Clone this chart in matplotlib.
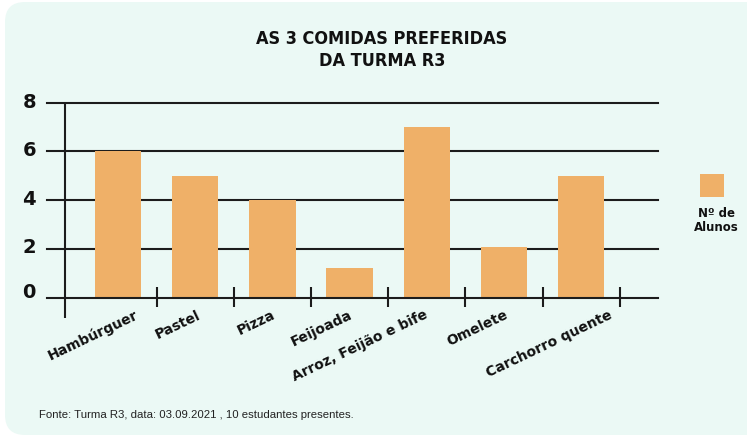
import matplotlib
matplotlib.use("Agg")
import matplotlib.pyplot as plt
import matplotlib.transforms as mtransforms
from matplotlib.patches import FancyBboxPatch, Rectangle

# Data
categorias = ["Hambúrguer", "Pastel", "Pizza", "Feijoada",
              "Arroz, Feijão e bife", "Omelete", "Carchorro quente"]
n_alunos = [6, 5, 4, 1.2, 7, 2.1, 5]
y_ticks = [0, 2, 4, 6, 8]
y_tick_labels = ["0", "2", "4", "6", "8"]
titulo = "AS 3 COMIDAS PREFERIDAS\nDA TURMA R3"
legenda = "Nº de\nAlunos"
fonte = "Fonte: Turma R3, data: 03.09.2021 , 10 estudantes presentes."

# Style
BAR = "#efb068"
BG = "#ebf9f5"
INK = "#1c1c1c"
LABEL_FONT = "DejaVu Sans"

W, H, DPI = 7.47, 4.37, 100
fig = plt.figure(figsize=(W, H), dpi=DPI, facecolor="white")

# rounded mint panel behind everything
panel = FancyBboxPatch((0.05, 0.02), 7.9, 4.33,
                       boxstyle="round,pad=0,rounding_size=0.2",
                       transform=fig.dpi_scale_trans, facecolor=BG,
                       edgecolor="none", zorder=-5)
fig.patches.append(panel)

# axes placed in pixel terms
left_px, right_px, top_px, bottom_px = 47, 657.7, 102.7, 317.7
ax = fig.add_axes([left_px / 747, 1 - bottom_px / 437,
                   (right_px - left_px) / 747, (bottom_px - top_px) / 437])
ax.set_facecolor("none")
ax.set_zorder(2)
ax.set_xlim(-0.919, 6.99)
ax.set_ylim(-0.82, 8)
for s in ax.spines.values():
    s.set_visible(False)

x = list(range(len(categorias)))
ax.bar(x, n_alunos, width=0.6, color=BAR, zorder=3)

for v in y_ticks:
    ax.axhline(v, color=INK, lw=1.5, zorder=2 if v else 4, clip_on=False)

# vertical axis line and category separators
ax.plot([-0.69, -0.69], [-0.82, 8], color=INK, lw=1.5, zorder=4,
        clip_on=False, solid_capstyle="butt")
for i in range(len(categorias)):
    ax.plot([i + 0.5, i + 0.5], [-0.4, 0.45], color=INK, lw=1.5,
            zorder=4, clip_on=False, solid_capstyle="butt")

# y labels
ax.set_xticks([])
ax.set_yticks(y_ticks)
ax.set_yticklabels(y_tick_labels, fontfamily=LABEL_FONT, fontweight="bold",
                   fontsize=14, color="#111111")
ax.tick_params(axis="y", length=0, pad=8)
lift = [7, 3.5, 3, 2.5, 2.5]
for lab, d in zip(ax.get_yticklabels(), lift):
    lab.set_transform(lab.get_transform() +
                      mtransforms.ScaledTranslation(0, d / DPI, fig.dpi_scale_trans))

# category labels
shift = [16, 1, -1, -1, -3, 0, 27]
for i, (name, dx) in enumerate(zip(categorias, shift)):
    off = mtransforms.ScaledTranslation(dx / DPI, 0, fig.dpi_scale_trans)
    ax.text(i, -0.42, name, rotation=25.5, rotation_mode="anchor",
            ha="right", va="top", fontfamily=LABEL_FONT, fontweight="bold",
            fontsize=10, color="#111111",
            transform=ax.transData + off, clip_on=False)

# title
fig.text(382 / 747, 1 - 50 / 437, titulo, ha="center", va="center",
         fontfamily="DejaVu Sans", fontstretch="condensed", fontweight="bold",
         fontsize=13, color="#111111", linespacing=1.35)

# legend
fig.patches.append(Rectangle((700 / 747, 1 - 197 / 437), 24 / 747, 23 / 437,
                             transform=fig.transFigure, facecolor=BAR,
                             edgecolor="none"))
fig.text(716 / 747, 1 - 220.5 / 437, legenda, ha="center", va="center",
         fontfamily=LABEL_FONT, fontweight="bold",
         fontsize=8.5, color="#111111", linespacing=1.15)

# source note
fig.text(39 / 747, 1 - 415 / 437, fonte, ha="left", va="center",
         fontfamily="Liberation Sans", fontsize=8.2, color="#222222")

fig.savefig("out.png", dpi=DPI, facecolor="white")
